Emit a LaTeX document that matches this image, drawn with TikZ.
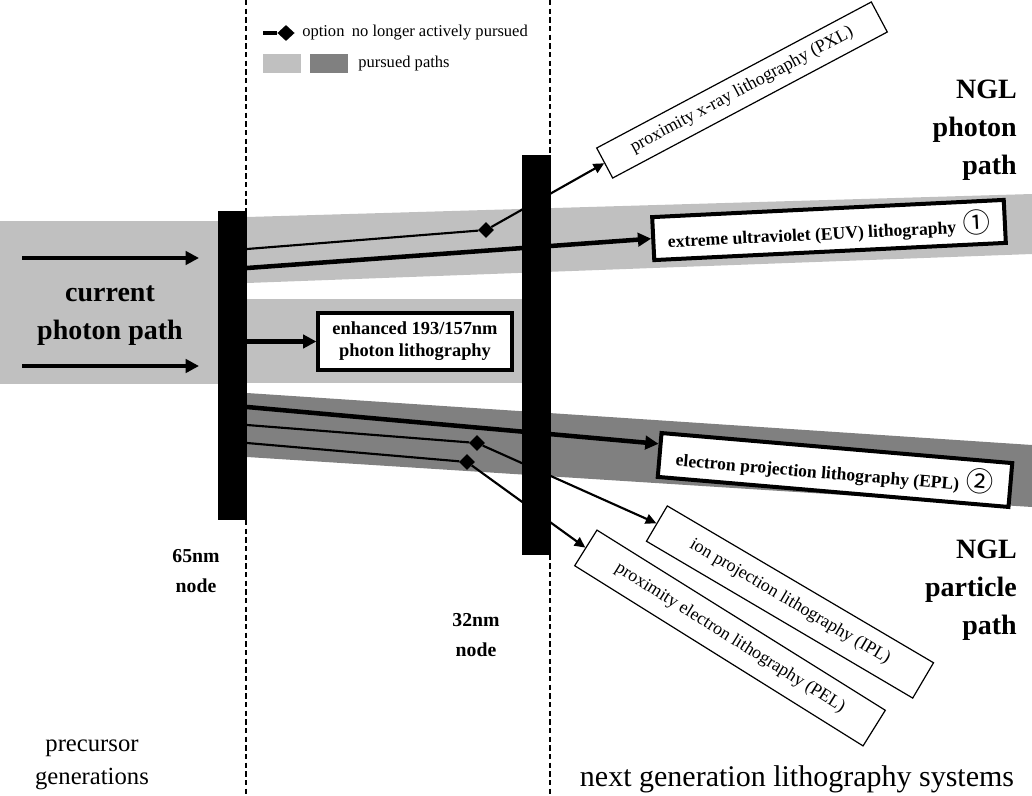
\documentclass[tikz,border=0pt]{standalone}
\usepackage{fontspec}
\setmainfont{Liberation Serif}
\newfontfamily\cjkfont{Noto Sans CJK SC}
\usetikzlibrary{arrows.meta,shapes.geometric,calc}
\definecolor{lgray}{HTML}{C0C0C0}
\definecolor{dgray}{HTML}{808080}
\newcommand{\circnum}[1]{{\cjkfont\mdseries\fontsize{20.5}{18}\selectfont #1}}
\begin{document}
\begin{tikzpicture}[x=0.75pt,y=-0.75pt,
  blackbar/.style={fill=black,draw=none,inner sep=0pt,minimum width=21.75pt},
  thinln/.style={line width=1.6pt},
  thickln/.style={line width=3.4pt},
  arrthin/.style={-{Triangle[length=8pt,width=7.5pt]}},
  arrthick/.style={-{Triangle[length=10pt,width=10pt]}},
  dmd/.style={diamond,fill=black,inner sep=0pt,minimum width=12pt,minimum height=12pt},
  optbox/.style={draw,line width=0.9pt,fill=white,inner sep=0pt,font=\fontsize{13.4}{15}\selectfont},
  mainbox/.style={draw,line width=3pt,fill=white,inner sep=0pt,font=\fontsize{13.2}{16}\selectfont\bfseries},
  bigtxt/.style={font=\fontsize{21}{28.5}\selectfont\bfseries,inner sep=0pt},
  nodetxt/.style={font=\fontsize{14.8}{22.5}\selectfont\bfseries,align=center,inner sep=0pt},
  plaintxt/.style={align=center,inner sep=0pt},
  legtxt/.style={font=\fontsize{12.4}{14}\selectfont,anchor=west,inner sep=0pt},
  sepline/.style={line width=1.2pt,dash pattern=on 4pt off 2.5pt},
  swatch/.style={inner sep=0pt,minimum width=28.5pt,minimum height=14pt}
]
\useasboundingbox (0,0) rectangle (1032,796);
% background bands
\fill[lgray] (0,221) rectangle (218,384);
\fill[lgray] (247,299) rectangle (522,383);
\fill[lgray] (247,217) -- (1032,194) -- (1032,254) -- (247,283) -- cycle;
\fill[dgray] (247,393) -- (1032,445) -- (1032,507) -- (247,457) -- cycle;

% dashed separators
\coordinate (dla) at (246,0); \coordinate (dlb) at (246,796);
\coordinate (dra) at (550,0); \coordinate (drb) at (550,796);
\draw[sepline] (dla) -- (dlb);
\draw[sepline] (dra) -- (drb);

% legend
\coordinate (ls) at (263,33);
\node[dmd,minimum width=13pt,minimum height=12pt] (ld) at (286,33) {};
\draw[line width=2.4pt] (ls) -- (ld);
\node[legtxt] (lt1) at (302,33) {option\hspace{0.45em}no longer actively pursued};
\node[swatch,fill=lgray] (swl) at (282,63.5) {};
\node[swatch,fill=dgray] (swd) at (328.5,63.5) {};
\node[legtxt] (lt2) at (358,64) {pursued paths};

% boxes
\node[mainbox,rotate=2.8,minimum width=264pt,minimum height=32.25pt] (euv) at (829,230)
  {extreme ultraviolet (EUV) lithography\hspace{0.4em}\circnum{①}};
\node[mainbox,rotate=-4.9,minimum width=264pt,minimum height=33pt] (epl) at (835,470)
  {electron projection lithography (EPL)\hspace{0.4em}\circnum{②}};
\node[mainbox,line width=2.4pt,align=center,minimum width=145.5pt,minimum height=42.75pt,
  font=\fontsize{13.8}{16.5}\selectfont\bfseries] (enh) at (415,341.5)
  {enhanced 193/157nm\\photon lithography};
\node[optbox,rotate=28,minimum width=233.25pt,minimum height=25.5pt] (pxl) at (742,90)
  {proximity x-ray lithography (PXL)};
\node[optbox,rotate=-30.5,minimum width=231.75pt,minimum height=30.75pt] (ipl) at (790,602)
  {ion projection lithography (IPL)};
\node[optbox,rotate=-32,minimum width=255pt,minimum height=31.5pt] (pel) at (730,638)
  {proximity electron lithography (PEL)};

% diamonds
\node[dmd] (d1) at (486,230) {};
\node[dmd] (d2) at (477,443) {};
\node[dmd] (d3) at (467,462) {};

% start points on the 65nm bar
\coordinate (s1) at (247,249);
\coordinate (s2) at (247,425);
\coordinate (s3) at (247,443);
\coordinate (e1) at (247,268);
\coordinate (e2) at (247,341.5);
\coordinate (e3) at (247,407);
\coordinate (eplin) at ($(epl.north west)!0.27!(epl.south west)$);
\coordinate (ca1) at (22,258); \coordinate (cb1) at (199,258);
\coordinate (ca2) at (22,366); \coordinate (cb2) at (199,366);

% connectors
\draw[thickln,arrthick] (ca1) -- (cb1);
\draw[thickln,arrthick] (ca2) -- (cb2);
\draw[thickln,arrthick] (e1) -- (euv.west);
\draw[thickln,arrthick] (e2) -- (enh.west);
\draw[thickln,arrthick] (e3) -- (eplin);
\draw[thinln] (s1) -- (d1);
\draw[thinln,arrthin] (d1) -- (pxl.west);
\draw[thinln] (s2) -- (d2);
\draw[thinln,arrthin] (d2) -- (ipl.west);
\draw[thinln] (s3) -- (d3);
\draw[thinln,arrthin] (d3) -- (pel.west);

% node bars
\node[blackbar,minimum height=231.75pt] (bar65) at (232.5,365.5) {};
\node[blackbar,minimum height=300pt] (bar32) at (536.5,355) {};

% texts
\node[bigtxt,align=center] (cur) at (110,316) {current\\photon path};
\node[bigtxt,align=right,anchor=east] (nglph) at (1017,130) {NGL\\photon\\path};
\node[bigtxt,align=right,anchor=east] (nglpa) at (1017,590) {NGL\\particle\\path};
\node[nodetxt] (n65) at (196,571) {65nm\\node};
\node[nodetxt] (n32) at (476,635) {32nm\\node};
\node[plaintxt,font=\fontsize{18.5}{25}\selectfont] (prec) at (92,765) {precursor\\generations};
\node[plaintxt,font=\fontsize{22.5}{25}\selectfont] (ngls) at (797,779) {next generation lithography systems};
\end{tikzpicture}
\end{document}
